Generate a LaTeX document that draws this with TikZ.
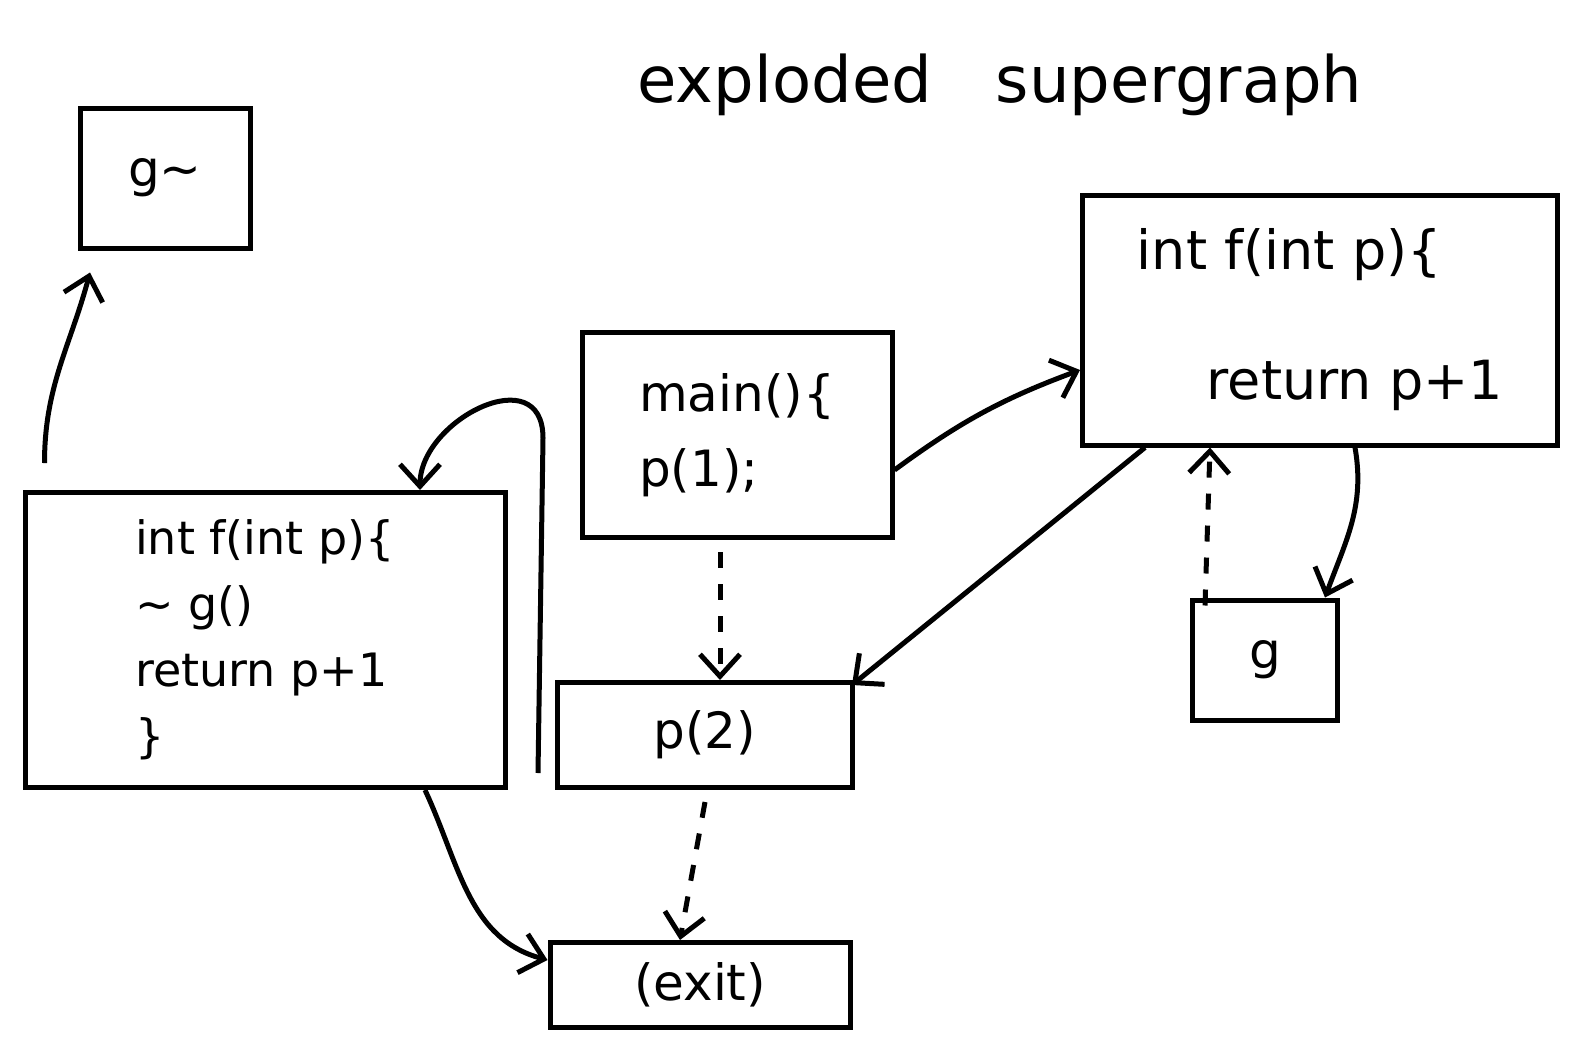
\documentclass[tikz,border=0pt]{standalone}
\usepackage{fontspec}
\setmainfont{DejaVu Sans}
\usetikzlibrary{arrows.meta}
\begin{document}
\begin{tikzpicture}[x=1pt,y=-1pt,
  box/.style={draw, line width=5pt, inner sep=0pt, align=left},
  arr/.style={line width=5pt, -{Straight Barb[length=22pt,width=40pt]}},
  darr/.style={arr, dash pattern=on 16pt off 16pt},
  big/.style={font=\fontsize{50}{66}\selectfont}]
\useasboundingbox[fill=white] (0,0) rectangle (1575,1039);

\node[font=\fontsize{64}{70}\selectfont] (title) at (1000,85) {exploded\quad supergraph};

\node[box, big, minimum width=170, minimum height=140] (gA) at (165,178) {g\textasciitilde};
\node[box, font=\fontsize{46}{66}\selectfont, minimum width=480, minimum height=295] (fL) at (265,640)
  {int f(int p)\{\\\textasciitilde\ g()\\return p+1\\\}};
\node[box, big, minimum width=310, minimum height=205] (main) at (737,435)
  {main()\{\\[9pt]p(1);};
\node[box, font=\fontsize{54}{70}\selectfont, minimum width=475, minimum height=250] (fR) at (1320,320)
  {int f(int p)\{\\[60pt]\hspace{70pt}return p+1};
\node[box, big, minimum width=295, minimum height=105] (p2) at (705,735) {p(2)};
\node[box, big, minimum width=300, minimum height=85] (exit) at (700,985) {(exit)};
\node[box, big, minimum width=145, minimum height=120] (gB) at (1265,660) {g};

% return-to-g~ edge
\draw[arr] ([xshift=22pt,yshift=27pt]fL.north west) to[out=90,in=-105] ([xshift=-75pt,yshift=-22pt]gA.south);
% call edge p(2) -> f entry
\draw[arr] ([xshift=-17pt,yshift=17pt]p2.south west) -- ++(5,-335)
  .. controls +(0,-80) and +(0,-70) .. ([xshift=155pt]fL.north);
% call edge main -> f
\draw[arr] ([yshift=-35pt]main.east) to[bend left=8] ([yshift=-50pt]fR.west);
% return f -> p(2)
\draw[arr] ([xshift=-175pt]fR.south) -- ([xshift=-3pt,yshift=-5pt]p2.north east);
% dashed main -> p(2)
\draw[darr] ([xshift=-17pt,yshift=-12pt]main.south) -- ([xshift=15pt]p2.north);
% dashed p(2) -> exit
\draw[darr] ([yshift=-12pt]p2.south) -- ([xshift=-20pt]exit.north);
% f (left) -> exit
\draw[arr] ([xshift=160pt]fL.south) to[out=-65,in=165] ([yshift=25pt]exit.west);
% f (right) -> g
\draw[arr] ([xshift=35pt]fR.south) to[out=-80,in=70] ([xshift=60pt]gB.north);
% dashed g -> f (right)
\draw[darr] ([xshift=-60pt,yshift=-8pt]gB.north) -- ([xshift=-110pt]fR.south);
\end{tikzpicture}
\end{document}
